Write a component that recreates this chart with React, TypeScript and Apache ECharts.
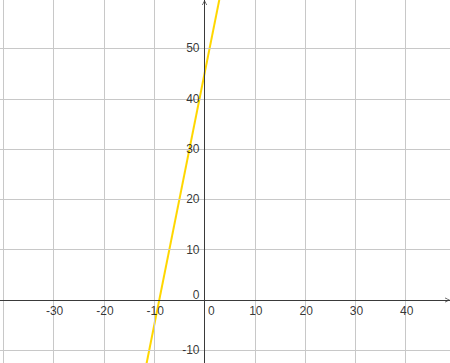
import React, { useEffect, useRef } from "react";
import * as echarts from "echarts";

// Visible window (units)
const xRange = [-40.66, 48.8];
const yRange = [-12.52, 59.64];

// Grid line positions
const xGridValues = [-40, -30, -20, -10, 10, 20, 30, 40];
const yGridValues = [-10, 10, 20, 30, 40, 50];

// Tick labels
const xTickLabels = [-30, -20, -10, 10, 20, 30, 40];
const yTickLabels = [-10, 10, 20, 30, 40, 50];

// The line (y = 5x + 45), two endpoints beyond the visible window
const lineData: [number, number][] = [
  [-12, -15],
  [4, 65],
];

const FONT = "'Liberation Sans', Arial, sans-serif";
const AXIS_COLOR = "#3a3a3a";
const GRID_COLOR = "#c8c8c8";
const LINE_COLOR = "#ffd700";

const chevron = "path://M0,10 L5,0 L10,10 L8.6,10 L5,2.6 L1.4,10 Z";

export default function App() {
  const ref = useRef<HTMLDivElement>(null);

  useEffect(() => {
    document.body.style.margin = "0";
    if (!ref.current) return;
    const chart = echarts.init(ref.current, undefined, { renderer: "svg" });

    const labelBase = {
      show: true,
      position: "inside" as const,
      color: "#000",
      fontFamily: FONT,
      fontSize: 12,
      formatter: (p: any) => String(p.value[0] !== 0 ? p.value[0] : p.value[1]),
    };

    chart.setOption({
      animation: false,
      backgroundColor: "#ffffff",
      grid: { left: 0, right: 0, top: 0, bottom: 0, containLabel: false },
      xAxis: {
        type: "value",
        min: xRange[0],
        max: xRange[1],
        splitLine: { show: false },
        axisTick: { show: false },
        axisLabel: { show: false },
        axisLine: {
          show: true,
          onZero: true,
          lineStyle: { color: AXIS_COLOR, width: 1 },
          symbol: ["none", chevron],
          symbolSize: [7, 5],
          symbolOffset: [0, -2.5],
        },
        z: 5,
      },
      yAxis: {
        type: "value",
        min: yRange[0],
        max: yRange[1],
        splitLine: { show: false },
        axisTick: { show: false },
        axisLabel: { show: false },
        axisLine: {
          show: true,
          onZero: true,
          lineStyle: { color: AXIS_COLOR, width: 1 },
          symbol: ["none", chevron],
          symbolSize: [7, 5],
          symbolOffset: [0, -2.5],
        },
        z: 5,
      },
      series: [
        {
          type: "line",
          data: [],
          silent: true,
          z: 1,
          markLine: {
            silent: true,
            symbol: ["none", "none"],
            label: { show: false },
            lineStyle: { color: GRID_COLOR, type: "solid", width: 1 },
            animation: false,
            data: [
              ...xGridValues.map((v) => ({ xAxis: v })),
              ...yGridValues.map((v) => ({ yAxis: v })),
            ],
          },
        },
        {
          type: "line",
          data: lineData,
          showSymbol: false,
          symbol: "none",
          silent: true,
          z: 3,
          lineStyle: { color: LINE_COLOR, width: 2 },
        },
        {
          type: "scatter",
          silent: true,
          symbolSize: 0,
          z: 6,
          data: xTickLabels.map((v) => [v, 0]),
          label: { ...labelBase, align: "center", offset: [1, 11] },
        },
        {
          type: "scatter",
          silent: true,
          symbolSize: 0,
          z: 6,
          data: yTickLabels.map((v) => [0, v]),
          label: { ...labelBase, align: "right", offset: [-5, 0] },
        },
        {
          type: "scatter",
          silent: true,
          symbolSize: 0,
          z: 6,
          data: [[0, 0]],
          label: { ...labelBase, formatter: "0", align: "left", offset: [3.5, 11] },
        },
        {
          type: "scatter",
          silent: true,
          symbolSize: 0,
          z: 6,
          data: [[0, 0]],
          label: { ...labelBase, formatter: "0", align: "right", offset: [-5, -5] },
        },
      ],
    });

    return () => chart.dispose();
  }, []);

  return <div ref={ref} style={{ width: 450, height: 363 }} />;
}
